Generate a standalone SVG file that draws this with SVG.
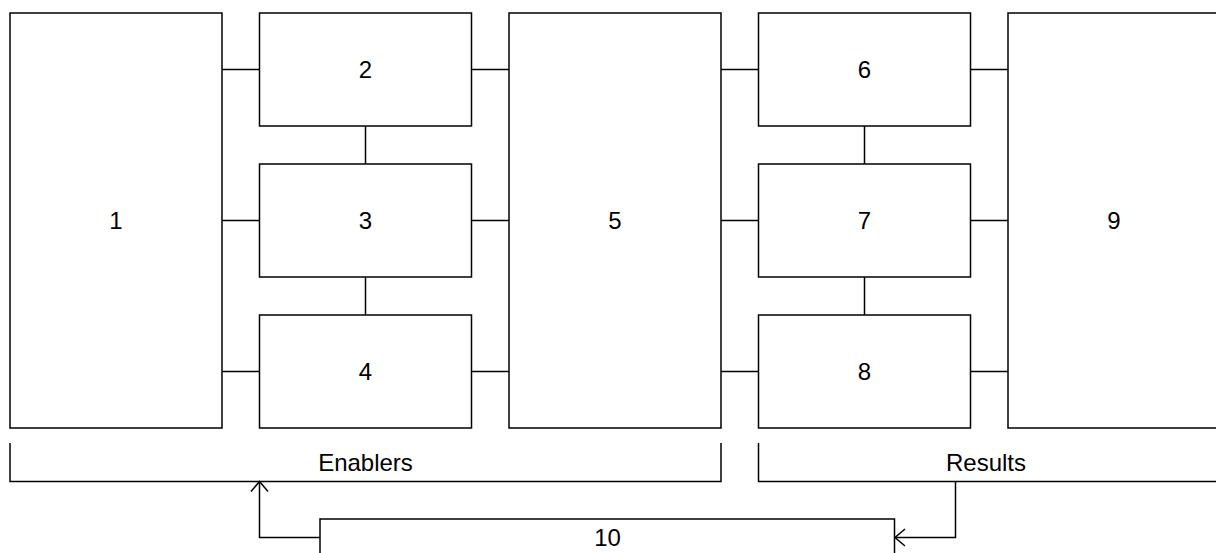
<svg xmlns="http://www.w3.org/2000/svg" width="1216" height="553" viewBox="0 0 1216 553">
  <style>
    .box { fill: #ffffff; stroke: #000000; stroke-width: 1.5; }
    .line { fill: none; stroke: #000000; stroke-width: 1.5; }
    .label { font-family: "Liberation Sans", Arial, sans-serif; font-size: 24px; fill: #000000; text-anchor: middle; }
  </style>
  <defs>
    <marker id="open-arrow" viewBox="-12 -10 14 20" markerWidth="14" markerHeight="20" refX="0" refY="0" orient="auto" markerUnits="userSpaceOnUse">
      <path d="M-10,-8.5 L0,0 L-10,8.5" fill="none" stroke="#000000" stroke-width="1.5"/>
    </marker>
  </defs>
  <rect width="1216" height="553" fill="#ffffff"/>

  <!-- connectors -->
  <g id="connectors" class="line">
    <!-- box 1 to column 2 -->
    <path d="M222,69.5 H259.5 M222,220.5 H259.5 M222,371.5 H259.5"/>
    <!-- column 2 verticals -->
    <path d="M365.5,126 V164 M365.5,277 V315"/>
    <!-- column 2 to box 5 -->
    <path d="M471.5,69.5 H509 M471.5,220.5 H509 M471.5,371.5 H509"/>
    <!-- box 5 to column 4 -->
    <path d="M721,69.5 H758.5 M721,220.5 H758.5 M721,371.5 H758.5"/>
    <!-- column 4 verticals -->
    <path d="M864.5,126 V164 M864.5,277 V315"/>
    <!-- column 4 to box 9 -->
    <path d="M970.5,69.5 H1008 M970.5,220.5 H1008 M970.5,371.5 H1008"/>
    <!-- feedback loop through box 10 -->
    <path d="M320,537.5 H259.5 V481.5" marker-end="url(#open-arrow)"/>
    <path d="M955.5,481.5 V537.5 H895" marker-end="url(#open-arrow)"/>
  </g>

  <g id="node-1"><rect class="box" x="10" y="13" width="212" height="415"/><text class="label" x="116" y="229">1</text></g>
  <g id="node-2"><rect class="box" x="259.5" y="13" width="212" height="113"/><text class="label" x="365.5" y="77.5">2</text></g>
  <g id="node-3"><rect class="box" x="259.5" y="164" width="212" height="113"/><text class="label" x="365.5" y="229">3</text></g>
  <g id="node-4"><rect class="box" x="259.5" y="315" width="212" height="113"/><text class="label" x="365.5" y="380">4</text></g>
  <g id="node-5"><rect class="box" x="509" y="13" width="212" height="415"/><text class="label" x="615" y="229">5</text></g>
  <g id="node-6"><rect class="box" x="758.5" y="13" width="212" height="113"/><text class="label" x="864.5" y="77.5">6</text></g>
  <g id="node-7"><rect class="box" x="758.5" y="164" width="212" height="113"/><text class="label" x="864.5" y="229">7</text></g>
  <g id="node-8"><rect class="box" x="758.5" y="315" width="212" height="113"/><text class="label" x="864.5" y="380">8</text></g>
  <g id="node-9"><rect class="box" x="1008" y="13" width="212" height="415"/><text class="label" x="1114" y="229">9</text></g>

  <g id="group-enablers">
    <path class="line" d="M10,443 V481.5 H721 V443"/>
    <text class="label" x="365.5" y="471">Enablers</text>
  </g>
  <g id="group-results">
    <path class="line" d="M758.5,443 V481.5 H1222"/>
    <text class="label" x="986" y="471">Results</text>
  </g>

  <g id="node-10">
    <path class="line" d="M320,560 V519 H894.5 V560"/>
    <text class="label" x="607.5" y="546">10</text>
  </g>
</svg>
